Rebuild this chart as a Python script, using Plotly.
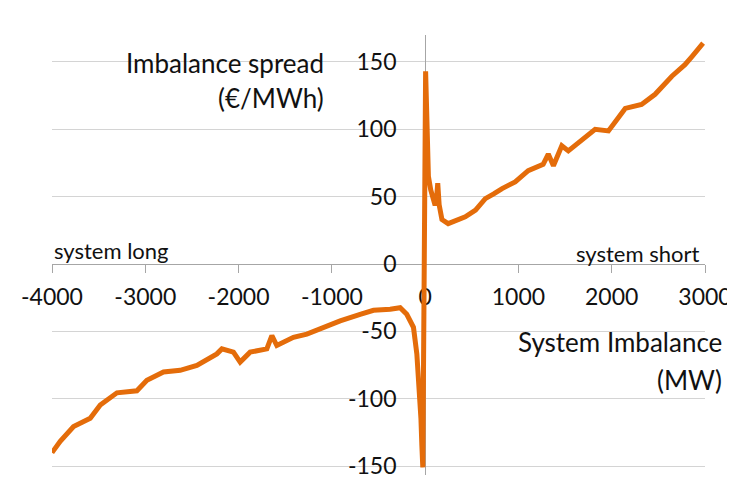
import plotly.graph_objects as go

# system imbalance (MW) vs imbalance spread (EUR/MWh)
imbalance_mw = [
    -4000, -3912, -3769, -3590, -3483, -3304, -3090, -2983, -2805, -2626,
    -2447, -2233, -2179, -2055, -1983, -1876, -1697, -1643, -1590, -1412,
    -1268, -1090, -911, -697, -554, -375, -268, -197, -125, -89,
    -72, -55, -45, -35, -25,
    5, 12, 18, 25, 35, 60, 107, 120, 135, 150, 180, 247, 330, 430, 540,
    645, 735, 825, 965, 1105, 1265, 1320, 1375, 1465, 1535,
    1680, 1822, 1965, 2145, 2320, 2465, 2645, 2785, 2860, 2980,
]
spread_eur = [
    -140, -131.6, -120.6, -114.5, -104.6, -95.6, -94.1, -86.3, -80.1, -78.9,
    -75.2, -66.7, -63, -65.4, -72.8, -65.4, -63, -53.2, -60.5, -54.4,
    -52, -47, -42.2, -37.3, -34.3, -33.6, -32.4, -37.3, -47, -66.7,
    -86.3, -95, -115, -135, -151,
    143, 120, 100, 80, 65, 55, 43.5, 47, 60, 44, 33, 30, 32, 35, 40,
    48.5, 52, 56, 61, 69.3, 74, 81.6, 73, 87.8, 84,
    92.7, 100, 98.8, 115.5, 118.5, 126, 139.4, 148, 154, 164,
]

x_ticks = [-4000, -3000, -2000, -1000, 0, 1000, 2000, 3000]
x_labels = ["-4000", "-3000", "-2000", "-1000", "0", "1000", "2000", "3000"]
y_ticks = [-150, -100, -50, 0, 50, 100, 150]
y_labels = ["-150", "-100", "-50", "0", "50", "100", "150"]
x_range = [-4000, 3000]
y_range = [-156.6, 170]

FONT = "Lato"
orange = "#E46C0A"

fig = go.Figure()
fig.add_trace(
    go.Scatter(
        x=imbalance_mw,
        y=spread_eur,
        mode="lines",
        line=dict(color=orange, width=5),
        showlegend=False,
    )
)

# axes cross at the origin
fig.update_layout(
    width=727,
    height=471,
    template="plotly_white",
    plot_bgcolor="white",
    paper_bgcolor="white",
    margin=dict(l=44, r=30, t=27, b=0),
    font=dict(family=FONT, color="#111111"),
    xaxis=dict(
        range=x_range,
        tickvals=x_ticks,
        ticktext=x_labels,
        showgrid=False,
        zeroline=False,
        showline=True,
        linecolor="#a6a6a6",
        linewidth=1,
        ticks="outside",
        ticklen=8,
        tickcolor="#a6a6a6",
        tickfont=dict(size=23, family=FONT),
        ticklabelstandoff=4,
        ticklabeloverflow="allow",
        anchor="free",
        position=(0 - y_range[0]) / (y_range[1] - y_range[0]),
        layer="below traces",
    ),
    yaxis=dict(
        range=y_range,
        tickvals=y_ticks,
        ticktext=y_labels,
        showgrid=True,
        gridcolor="#d4d4d4",
        gridwidth=1,
        zeroline=False,
        showline=True,
        linecolor="#a6a6a6",
        linewidth=1,
        ticks="",
        tickfont=dict(size=23, family=FONT),
        ticklabelstandoff=24,
        ticklabeloverflow="allow",
        anchor="free",
        position=(0 - x_range[0]) / (x_range[1] - x_range[0]),
        layer="below traces",
    ),
)

# axis titles sit in white boxes over the gridlines
fig.add_shape(type="rect", xref="paper", yref="paper",
              x0=(103 - 52) / 653, x1=(343 - 52) / 653,
              y0=(479 - 116) / 444, y1=(479 - 45) / 444,
              fillcolor="white", line_width=0, layer="below")
fig.add_shape(type="rect", xref="paper", yref="paper",
              x0=(503 - 52) / 653, x1=1.05,
              y0=(479 - 400) / 444, y1=(479 - 326) / 444,
              fillcolor="white", line_width=0, layer="below")

notes = [
    ("Imbalance spread", 326, 63, "right", 26),
    ("(€/MWh)", 326, 99, "right", 26),
    ("System Imbalance", 724, 345, "right", 26),
    ("(MW)", 724, 383, "right", 26),
    ("system long", 52, 252, "left", 22),
    ("system short", 701, 255, "right", 22),
]
for text, px, py, align, size in notes:
    fig.add_annotation(
        text=text, showarrow=False,
        xref="paper", yref="paper",
        x=(px - 52) / 653, y=(479 - py) / 444,
        xanchor=align, yanchor="middle",
        font=dict(size=size, family=FONT, color="#111111"),
    )

fig.write_html("out.html")
